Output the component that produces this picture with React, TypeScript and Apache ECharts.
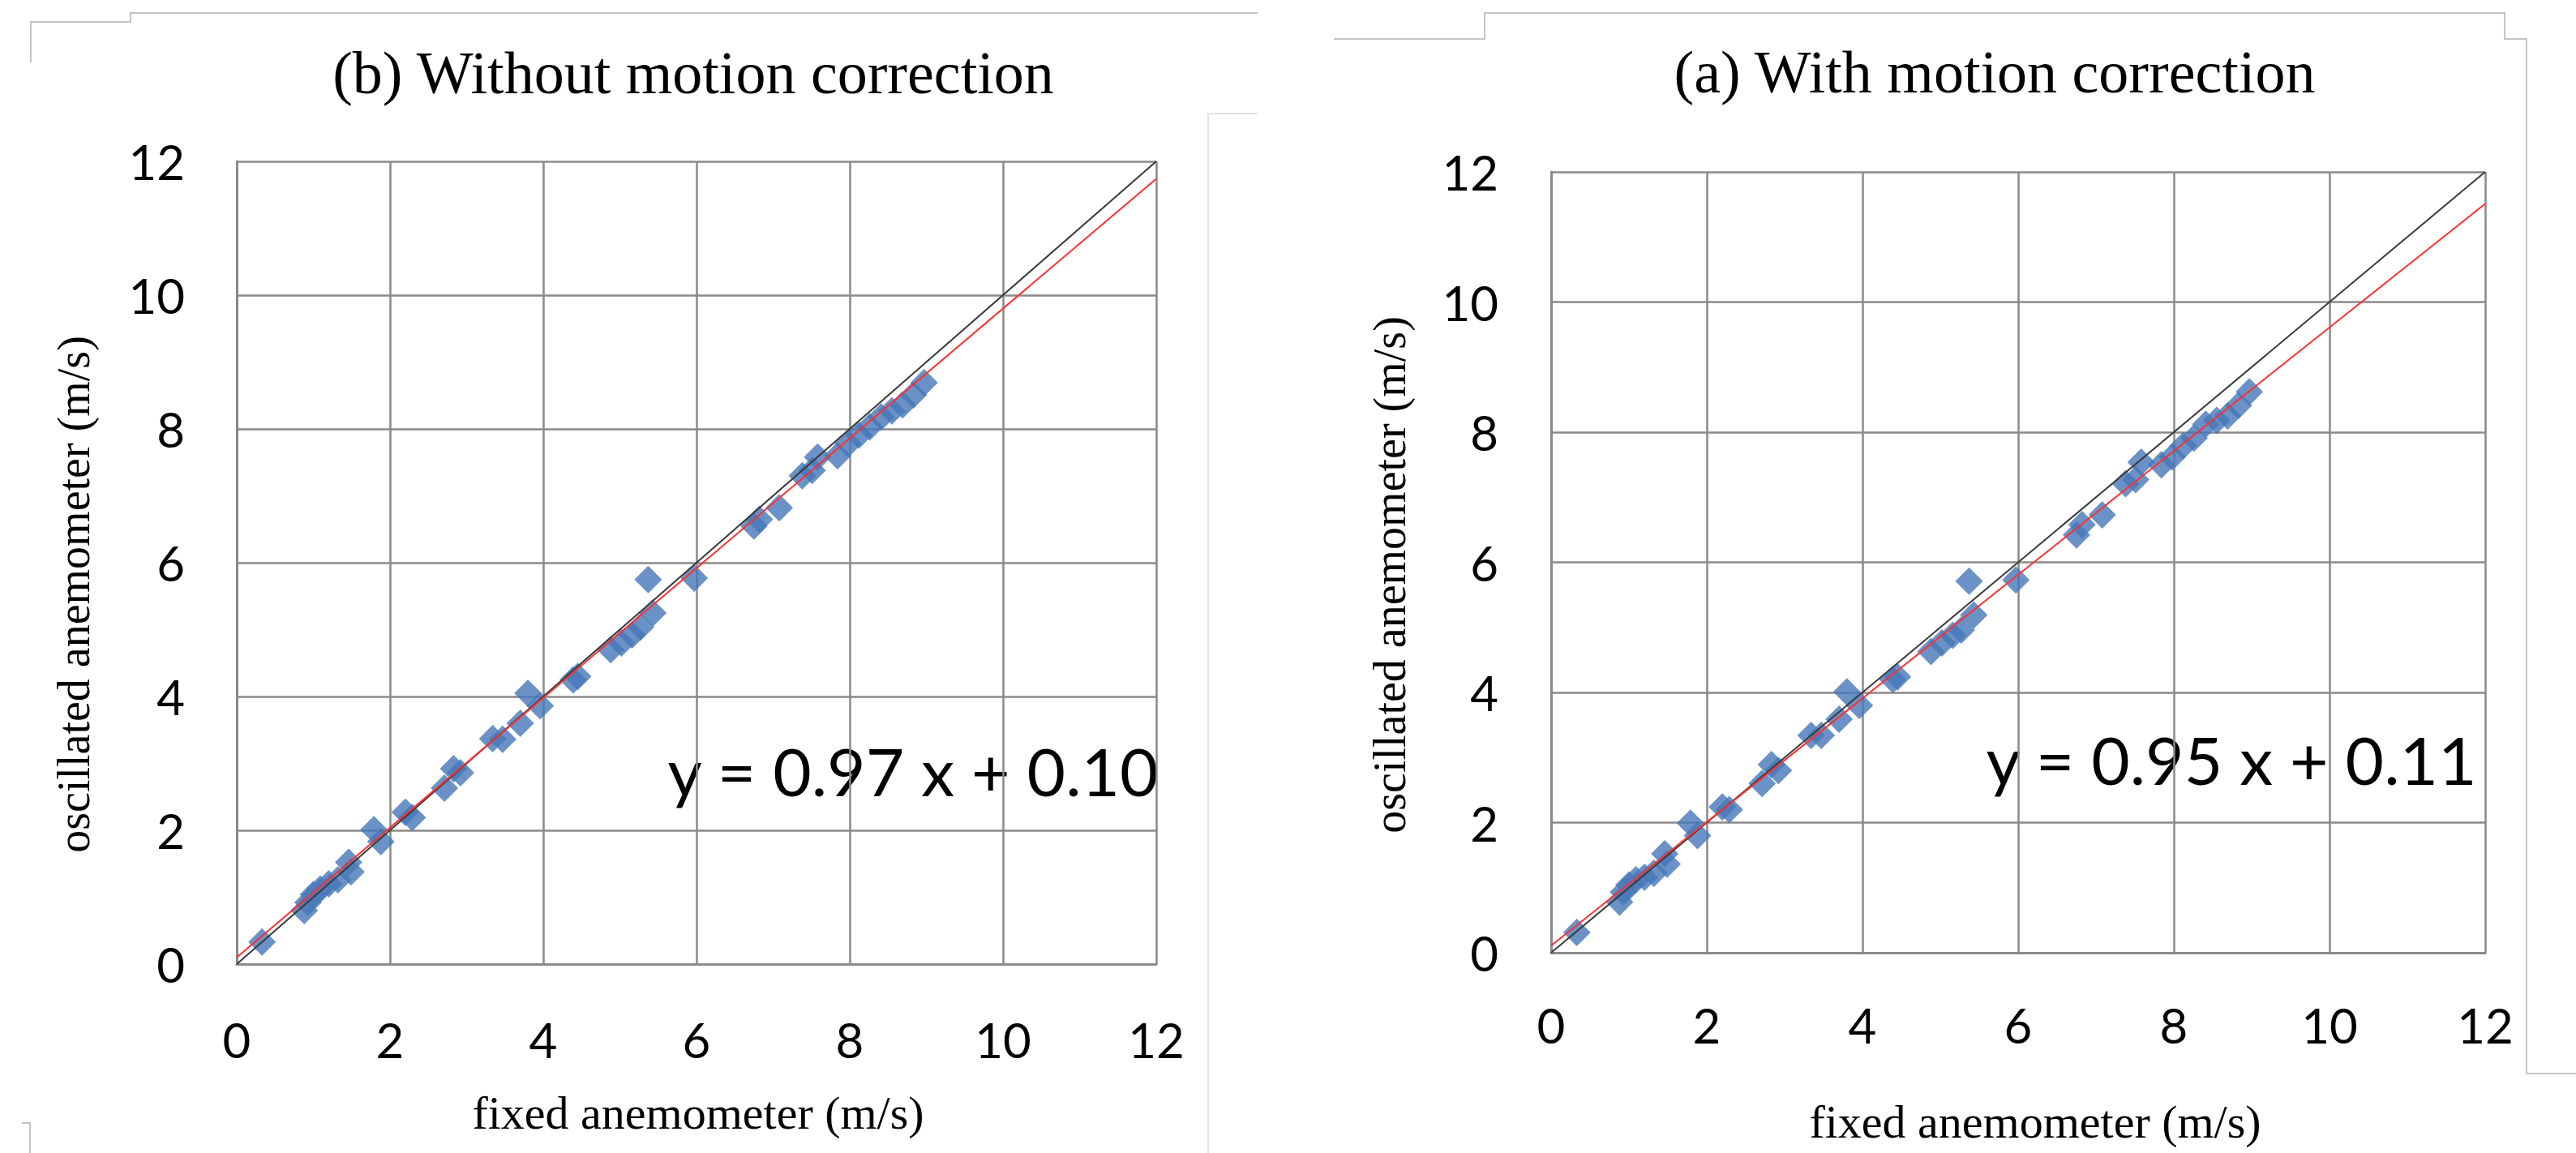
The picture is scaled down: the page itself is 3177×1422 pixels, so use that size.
import React, { useEffect, useRef } from "react";
import * as echarts from "echarts";

// Fixed anemometer wind speed (m/s), shared by both panels
const X_FIXED = [
  0.33, 0.88, 0.93, 1.0, 1.09, 1.2, 1.32, 1.46, 1.49, 1.79, 1.88, 2.2, 2.29,
  2.71, 2.83, 2.92, 3.34, 3.47, 3.7, 3.8, 3.96, 4.39, 4.45, 4.88, 5.02, 5.16,
  5.27, 5.43, 5.37, 5.97, 6.75, 6.82, 7.08, 7.38, 7.51, 7.58, 7.84, 7.98,
  8.12, 8.26, 8.41, 8.55, 8.69, 8.83, 8.97,
];
// Oscillated anemometer, (b) without motion correction
const Y_WITHOUT = [
  0.33, 0.8, 0.92, 1.04, 1.12, 1.2, 1.26, 1.52, 1.38, 2.01, 1.83, 2.27, 2.19,
  2.63, 2.92, 2.86, 3.37, 3.36, 3.6, 4.05, 3.86, 4.25, 4.3, 4.7, 4.8, 4.92,
  5.04, 5.25, 5.75, 5.77, 6.55, 6.65, 6.82, 7.3, 7.38, 7.58, 7.6, 7.78, 7.91,
  8.03, 8.18, 8.27, 8.36, 8.51, 8.69,
];
// Oscillated anemometer, (a) with motion correction
const Y_WITH = [
  0.31, 0.78, 0.93, 1.04, 1.12, 1.16, 1.22, 1.52, 1.36, 1.99, 1.8, 2.24, 2.2,
  2.6, 2.89, 2.8, 3.34, 3.34, 3.59, 4.01, 3.8, 4.2, 4.24, 4.63, 4.76, 4.88,
  4.96, 5.19, 5.71, 5.73, 6.42, 6.58, 6.73, 7.21, 7.27, 7.54, 7.5, 7.62, 7.79,
  7.91, 8.12, 8.18, 8.25, 8.41, 8.62,
];
// 1:1 reference line and linear fits (end points)
const IDENTITY_LINE = [
  [0, 0],
  [12, 12],
];
const FIT_WITHOUT = [
  [0, 0.1],
  [12, 11.74],
];
const FIT_WITH = [
  [0, 0.11],
  [12, 11.51],
];
const AXIS_MIN = 0;
const AXIS_MAX = 12;
const AXIS_STEP = 2;

const TITLES = ["(b) Without motion correction", "(a) With motion correction"];
const EQUATIONS = ["y = 0.97 x + 0.10", "y = 0.95 x + 0.11"];
const X_NAME = "fixed anemometer (m/s)";
const Y_NAME = "oscillated anemometer (m/s)";

const SERIF = '"Liberation Serif", "Times New Roman", serif';
const SANS = 'Lato, "Open Sans", sans-serif';
const GRID_COLOR = "#8a8a8a";
const FRAME_COLOR = "#c4c4c4";

function makeAxis(gridIndex: number, labelMargin: number) {
  return {
    type: "value",
    gridIndex,
    min: AXIS_MIN,
    max: AXIS_MAX,
    interval: AXIS_STEP,
    axisLine: {
      show: true,
      onZero: false,
      lineStyle: { color: GRID_COLOR, width: 3 },
    },
    axisTick: { show: false },
    splitLine: { show: true, lineStyle: { color: GRID_COLOR, width: 2.5 } },
    axisLabel: {
      color: "#000",
      fontFamily: SANS,
      fontSize: 60,
      margin: labelMargin,
    },
  };
}

function text(
  str: string,
  x: number,
  y: number,
  font: string,
  rotation = 0
) {
  return {
    type: "text",
    x,
    y,
    rotation,
    silent: true,
    style: {
      text: str,
      fill: "#000",
      font,
      align: "center",
      verticalAlign: "middle",
      textAlign: "center",
      textVerticalAlign: "middle",
    },
  };
}

function frame(points: number[][], color = FRAME_COLOR) {
  return {
    type: "polyline",
    silent: true,
    shape: { points },
    style: { stroke: color, lineWidth: 2, fill: null },
  };
}

export default function App() {
  const ref = useRef<HTMLDivElement>(null);

  useEffect(() => {
    document.body.style.margin = "0";
    document.body.style.overflow = "hidden";
    if (!ref.current) return;
    const chart = echarts.init(ref.current, undefined, { renderer: "svg" });

    const scatterData = (ys: number[]) => X_FIXED.map((x, i) => [x, ys[i]]);

    const panelSeries = (idx: number, ys: number[], fit: number[][]) => [
      {
        type: "scatter",
        xAxisIndex: idx,
        yAxisIndex: idx,
        symbol: "diamond",
        symbolSize: 34,
        itemStyle: { color: "#4677b8" },
        data: scatterData(ys),
        z: 2,
      },
      {
        type: "line",
        xAxisIndex: idx,
        yAxisIndex: idx,
        data: IDENTITY_LINE,
        symbol: "none",
        lineStyle: { color: "#3a3a3a", width: 2 },
        z: 3,
      },
      {
        type: "line",
        xAxisIndex: idx,
        yAxisIndex: idx,
        data: fit,
        symbol: "none",
        lineStyle: { color: "#ff3030", width: 2 },
        z: 4,
      },
    ];

    chart.setOption({
      animation: false,
      backgroundColor: "#ffffff",
      textStyle: { fontFamily: SANS },
      grid: [
        { left: 292, top: 199, width: 1134, height: 990 },
        { left: 1913, top: 212, width: 1152, height: 963 },
      ],
      xAxis: [makeAxis(0, 63), makeAxis(1, 59)],
      yAxis: [makeAxis(0, 64), makeAxis(1, 65)],
      series: [
        ...panelSeries(0, Y_WITHOUT, FIT_WITHOUT),
        ...panelSeries(1, Y_WITH, FIT_WITH),
      ],
      graphic: [
        // panel frames (cropping borders of the original figure)
        frame([
          [38, 77],
          [38, 27],
          [161, 27],
          [161, 16],
          [1551, 16],
        ]),
        frame(
          [
            [1551, 140],
            [1490, 140],
            [1490, 1422],
          ],
          "#e2e2e2"
        ),
        frame([
          [27, 1385],
          [37, 1385],
          [37, 1422],
        ]),
        frame([
          [1645, 48],
          [1831, 48],
          [1831, 16],
          [3089, 16],
          [3089, 48],
          [3116, 48],
          [3116, 1324],
          [3177, 1324],
        ]),
        // titles
        text(TITLES[0], 855, 90, `74px ${SERIF}`),
        text(TITLES[1], 2460, 89, `74px ${SERIF}`),
        // axis names
        text(X_NAME, 861, 1372, `58px ${SERIF}`),
        text(X_NAME, 2510, 1383, `58px ${SERIF}`),
        text(Y_NAME, 91, 733, `56px ${SERIF}`, Math.PI / 2),
        text(Y_NAME, 1714, 709, `56px ${SERIF}`, Math.PI / 2),
        // regression equations
        text(EQUATIONS[0], 1126, 950, `82px ${SANS}`),
        text(EQUATIONS[1], 2752, 936, `82px ${SANS}`),
      ],
    });

    return () => chart.dispose();
  }, []);

  return <div ref={ref} style={{ width: 3177, height: 1422 }} />;
}
